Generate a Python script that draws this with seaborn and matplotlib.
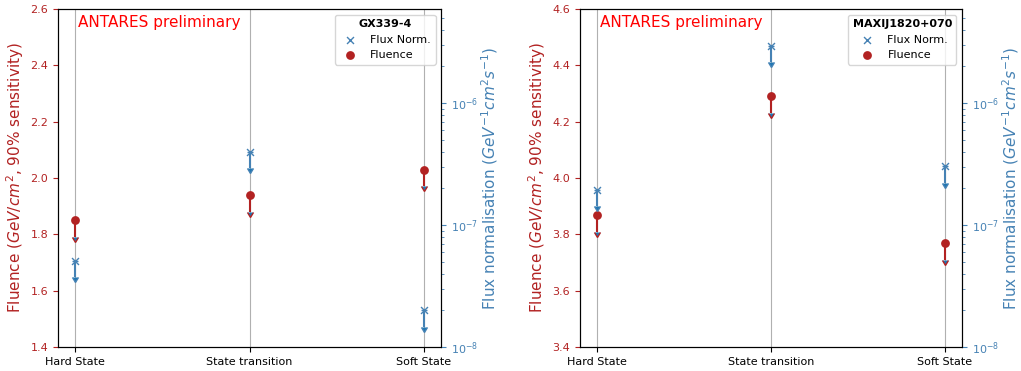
import numpy as np
import matplotlib
matplotlib.use('Agg')
import matplotlib.pyplot as plt
import seaborn as sns

# categories on the x axis
states = ['Hard State', 'State transition', 'Soft State']

# GX339-4
gx_name = 'GX339-4'
gx_fluence = [1.85, 1.94, 2.03]
gx_flux = [5.1e-8, 4.0e-7, 2.0e-8]

# MAXIJ1820+070
maxi_name = 'MAXIJ1820+070'
maxi_fluence = [3.87, 4.29, 3.77]
maxi_flux = [1.95e-7, 2.95e-6, 3.05e-7]

fluence_lims = [(1.4, 2.6), (3.4, 4.6)]
fluence_err = 0.06
flux_err_frac = 0.27

red = '#B22222'
blue = '#4682B4'

fig = plt.figure(figsize=(10.21, 3.71), dpi=100)
ax_left = fig.add_axes([0.0568, 0.0647, 0.3752, 0.911])
ax_right = fig.add_axes([0.5681, 0.0647, 0.3741, 0.911])


def draw_panel(ax, name, fluence, flux, ylim):
    x = np.arange(len(states))
    ax.grid(axis='x', color='#b0b0b0', linewidth=0.8)
    ax.set_axisbelow(True)

    ax.errorbar(x, fluence, yerr=fluence_err, uplims=True, fmt='none',
                ecolor=red, elinewidth=1.5, capsize=2.5)
    sns.scatterplot(x=x, y=fluence, ax=ax, marker='o', color=red, s=40,
                    linewidth=0, label='Fluence', legend=False, zorder=3)
    ax.set_xlim(-0.1, 2.1)
    ax.set_ylim(*ylim)
    ax.set_yticks(np.arange(ylim[0], ylim[1] + 0.01, 0.2))
    ax.set_xticks(x)
    ax.set_xticklabels(states, fontsize=8)
    ax.tick_params(axis='y', colors=red, labelsize=8)
    ax.set_ylabel('Fluence ($GeV/cm^2$, 90% sensitivity)', color=red,
                  fontsize=11, labelpad=3)
    ax.set_xlabel('')

    ax2 = ax.twinx()
    flux = np.array(flux)
    ax2.errorbar(x, flux, yerr=flux * flux_err_frac, uplims=True, fmt='none',
                 ecolor=blue, elinewidth=1.5, capsize=2.5)
    sns.scatterplot(x=x, y=flux, ax=ax2, marker='x', color=blue, s=25,
                    linewidth=1, label='Flux Norm.', legend=False, zorder=3)
    ax2.set_yscale('log')
    ax2.set_ylim(1e-8, 5.9e-6)
    ax2.tick_params(axis='y', which='both', colors=blue, labelsize=8)
    ax2.set_ylabel('Flux normalisation ($GeV^{-1}cm^2s^{-1}$)', color=blue,
                   fontsize=11, labelpad=1)

    ax.text(0.052, 0.947, 'ANTARES preliminary', transform=ax.transAxes,
            color='red', fontsize=11, va='baseline')

    h1, l1 = ax2.get_legend_handles_labels()
    h2, l2 = ax.get_legend_handles_labels()
    ax2.legend(h1 + h2, l1 + l2, title=name, loc='upper right', fontsize=8,
               title_fontproperties={'weight': 'bold', 'size': 8})


draw_panel(ax_left, gx_name, gx_fluence, gx_flux, fluence_lims[0])
draw_panel(ax_right, maxi_name, maxi_fluence, maxi_flux, fluence_lims[1])

fig.savefig('out.png', dpi=100)
